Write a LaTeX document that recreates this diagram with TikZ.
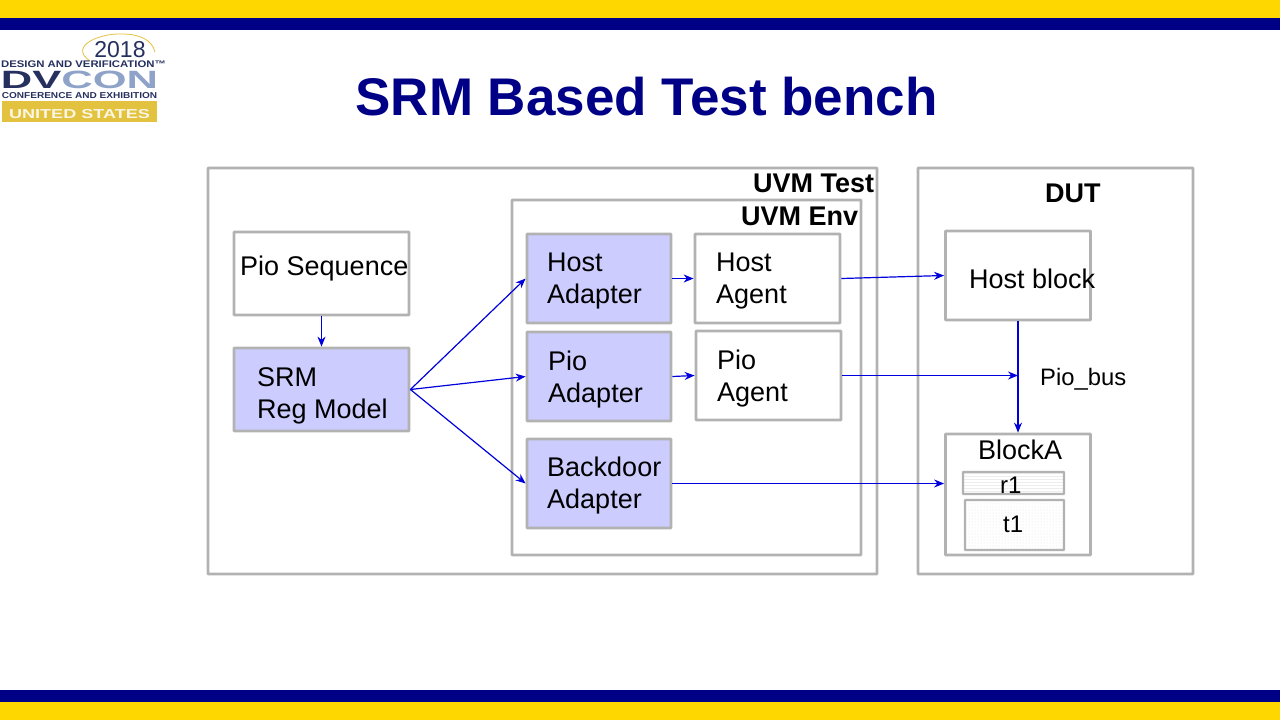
\documentclass[tikz,border=0pt]{standalone}
\usepackage{fontspec}
\setmainfont{Liberation Sans}
\usetikzlibrary{patterns,arrows.meta}

\definecolor{barnavy}{HTML}{000086}
\definecolor{bargold}{HTML}{FFD700}
\definecolor{boxgray}{HTML}{B2B2B2}
\definecolor{boxfill}{HTML}{CCCCFF}
\definecolor{connblue}{HTML}{0000DC}
\definecolor{logodark}{HTML}{26305F}
\definecolor{logolight}{HTML}{8FA3C9}
\definecolor{logogold}{HTML}{E3C23F}

\tikzset{
	box/.style={draw=boxgray, line width=2.8pt, inner sep=0pt, rounded corners=0.5pt},
	adapter/.style={box, fill=boxfill},
	lbl/.style={anchor=west, inner sep=0pt, align=left, font=\fontsize{27}{32}\selectfont},
	head/.style={lbl, font=\fontsize{27}{32}\selectfont\bfseries},
	conn/.style={draw=connblue, line width=1.2pt, -{Stealth[length=10pt,width=8pt]}},
}

\begin{document}
\begin{tikzpicture}[x=1pt,y=-1pt]
\useasboundingbox (0,0) rectangle (1280,720);

\fill[bargold] (0,0) rectangle (1280,18);
\fill[barnavy] (0,18) rectangle (1280,30);
\fill[barnavy] (0,690) rectangle (1280,702);
\fill[bargold] (0,702) rectangle (1280,720);

\draw[logogold, line width=0.8pt] (90,61) .. controls (68,46) and (100,33) .. (122,34) .. controls (140,34) and (152,40) .. (155,52);
\node[inner sep=0pt, text=logodark] (logoyear) at (120,49.5) {\fontsize{23}{23}\selectfont 2018};
\node[inner sep=0pt, text=logodark, xscale=1.18] (logotop) at (83.5,64.5) {\fontsize{9.6}{10}\selectfont\bfseries DESIGN AND VERIFICATION™};
\node[inner sep=0pt, xscale=1.74] (logoname) at (79.5,79.5) {\fontsize{25}{25}\selectfont\bfseries\textcolor{logodark}{DV}\textcolor{logolight}{CON}};
\node[inner sep=0pt, text=logodark, xscale=1.17] (logomid) at (79.5,95.5) {\fontsize{8.6}{10}\selectfont\bfseries CONFERENCE AND EXHIBITION};
\node[fill=logogold, minimum width=111.5pt, minimum height=21pt, inner sep=0pt, text height=13pt, text depth=0pt, xscale=1.39, text=white!85!logogold] (logobar) at (79.5,111.5) {\fontsize{13}{14}\selectfont\bfseries UNITED STATES};

\node[inner sep=0pt, text=barnavy] (title) at (646.5,97) {\fontsize{53}{60}\selectfont\bfseries SRM Based Test bench};

\node[box, minimum width=669pt, minimum height=406pt] (uvmtest) at (542.5,371) {};
\node[box, minimum width=349pt, minimum height=355pt] (uvmenv) at (686.5,377.5) {};
\node[box, minimum width=275pt, minimum height=406pt] (dut) at (1055.5,371) {};
\node[head] (uvmtestlbl) at (753,183) {UVM Test};
\node[head] (uvmenvlbl) at (741,216) {UVM Env};
\node[head] (dutlbl) at (1045,193) {DUT};

\node[box, minimum width=175pt, minimum height=83pt] (pioseq) at (321.5,273.5) {};
\node[adapter, minimum width=175pt, minimum height=83pt] (srm) at (321.5,389.5) {};
\node[lbl] (pioseqlbl) at (240,269) {Pio Sequence};
\node[lbl] (srmlbl) at (257,396) {SRM\\Reg Model};

\node[adapter, minimum width=144pt, minimum height=89pt] (hostadapter) at (599,278.5) {};
\node[adapter, minimum width=144pt, minimum height=89pt] (pioadapter) at (599,376.5) {};
\node[adapter, minimum width=144pt, minimum height=89pt] (backdooradapter) at (599,483.5) {};
\node[box, minimum width=145pt, minimum height=89pt] (hostagent) at (767.5,278.5) {};
\node[box, minimum width=145pt, minimum height=89pt] (pioagent) at (768.5,375.5) {};
\node[lbl] (hostadapterlbl) at (547,281) {Host\\Adapter};
\node[lbl] (pioadapterlbl) at (548,380) {Pio\\Adapter};
\node[lbl] (backdoorlbl) at (547,486) {Backdoor\\Adapter};
\node[lbl] (hostagentlbl) at (716,281) {Host\\Agent};
\node[lbl] (pioagentlbl) at (717,379) {Pio\\Agent};

\node[box, minimum width=145pt, minimum height=89pt] (hostblock) at (1018,275.5) {};
\node[box, minimum width=145pt, minimum height=121pt] (blocka) at (1018,494.5) {};
\node[box, line width=2.4pt, pattern=horizontal lines, pattern color=black!7, minimum width=101pt, minimum height=22pt] (rone) at (1013.5,483) {};
\node[box, line width=2.4pt, pattern=dots, pattern color=black!12, minimum width=99pt, minimum height=50pt] (tone) at (1014.5,525) {};
\node[lbl] (hostblocklbl) at (969,279) {Host block};
\node[lbl] (blockalbl) at (978,450) {BlockA};
\node[lbl, font=\fontsize{24}{28}\selectfont] (ronelbl) at (1000,485) {r1};
\node[lbl, font=\fontsize{24}{28}\selectfont] (tonelbl) at (1003,524) {t1};
\node[lbl, font=\fontsize{23.8}{28}\selectfont] (piobuslbl) at (1040,379) {Pio\_bus};

\coordinate (piobus) at (1018,375.5);

\draw[conn] (pioseq.south) -- (srm.north);
\foreach \dst in {hostadapter, pioadapter, backdooradapter} {
	\draw[conn] (srm.east) -- (\dst.west);
}
\draw[conn] (hostadapter.east) -- (hostagent.west);
\draw[conn] (pioadapter.east) -- (pioagent.west);
\draw[conn] (hostagent.east) -- (hostblock.west);
\draw[conn] (pioagent.east) -- (piobus);
\draw[conn] (hostblock.south) -- (blocka.north);
\draw[conn] (backdooradapter.east) -- (blocka.west |- backdooradapter.east);
\end{tikzpicture}
\end{document}
